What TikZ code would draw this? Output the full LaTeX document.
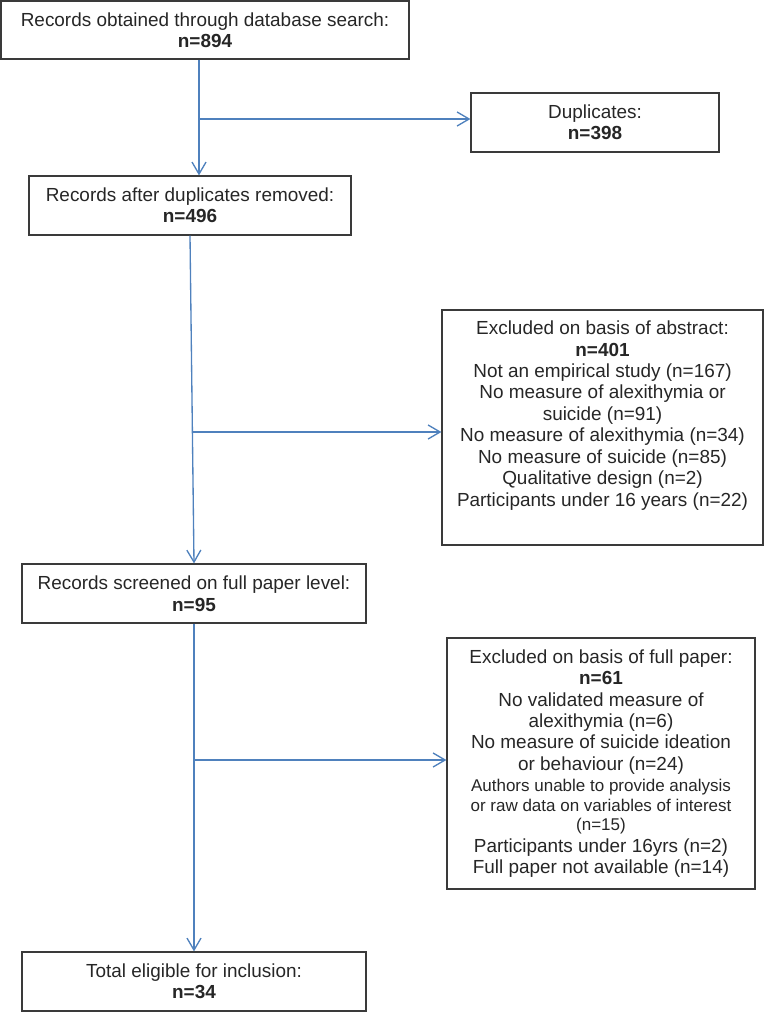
\documentclass[tikz,border=0pt]{standalone}
\usepackage{fontspec}
\setmainfont{Liberation Sans}
\usepackage{xcolor}
\usetikzlibrary{positioning,arrows.meta}

\definecolor{flowblue}{HTML}{4F81BD}
\definecolor{boxgray}{HTML}{3A3A3A}
\newcommand{\smtxt}[1]{{\fontsize{12.75pt}{14pt}\selectfont #1}}

\tikzset{
  box/.style={draw=boxgray, line width=0.9pt, align=center, inner sep=2pt,
    text=black!85, font=\fontsize{14.2pt}{16.1pt}\selectfont},
  arr/.style={draw=flowblue, line width=1pt, -{Straight Barb[length=9pt,width=10.5pt]}},
}

\begin{document}
\begin{tikzpicture}[x=0.75pt,y=-0.75pt]
    \useasboundingbox (0,0) rectangle (765,1012);
    \node[box,minimum width=306pt,minimum height=43.5pt] (rec) at (205,30)
      {Records obtained through database search:\\\textbf{n=894}} ;
    \node[box,minimum width=186pt,minimum height=44.25pt] (dup) at (595,122.5)
      {Duplicates:\\\textbf{n=398}} ;
    \node[box,minimum width=241.5pt,minimum height=44.25pt] (after) at (190,205.5)
      {Records after duplicates removed:\\\textbf{n=496}} ;
    \node[box,minimum width=240.75pt,minimum height=176.25pt] (abs) at (602.5,427.5)
      {Excluded on basis of abstract:\\\textbf{n=401}\\Not an empirical study (n=167)\\
       No measure of alexithymia or\\suicide (n=91)\\No measure of alexithymia (n=34)\\
       No measure of suicide (n=85)\\Qualitative design (n=2)\\
       Participants under 16 years (n=22)\\\strut} ;
    \node[box,minimum width=258pt,minimum height=44.25pt] (screen) at (194,593.5)
      {Records screened on full paper level:\\\textbf{n=95}} ;
    \node[box,minimum width=231pt,minimum height=188.25pt] (full) at (601,763.5)
      {Excluded on basis of full paper:\\\textbf{n=61}\\No validated measure of\\
       alexithymia (n=6)\\No measure of suicide ideation\\or behaviour (n=24)\\
       \smtxt{Authors unable to provide analysis}\\[-1.5pt]
       \smtxt{or raw data on variables of interest}\\[-1.5pt]
       \smtxt{(n=15)}\\Participants under 16yrs (n=2)\\Full paper not available (n=14)} ;
    \node[box,minimum width=258pt,minimum height=44.25pt] (total) at (194,981.5)
      {Total eligible for inclusion:\\\textbf{n=34}} ;
    % branch points on the main line
    \coordinate (b1) at (199,119) ;
    \coordinate (b2) at (192.4,432) ;
    \coordinate (b3) at (194,760) ;
    \draw[arr] (rec.south -| b1) -- (after.north -| b1) ;
    \draw[arr] (b1) -- (dup.west |- b1) ;
    \draw[arr] (after.south) -- (screen.north) ;
    \draw[arr] (b2) -- (abs.west |- b2) ;
    \draw[arr] (screen.south) -- (total.north) ;
    \draw[arr] (b3) -- (full.west |- b3) ;
  \end{tikzpicture}
\end{document}
